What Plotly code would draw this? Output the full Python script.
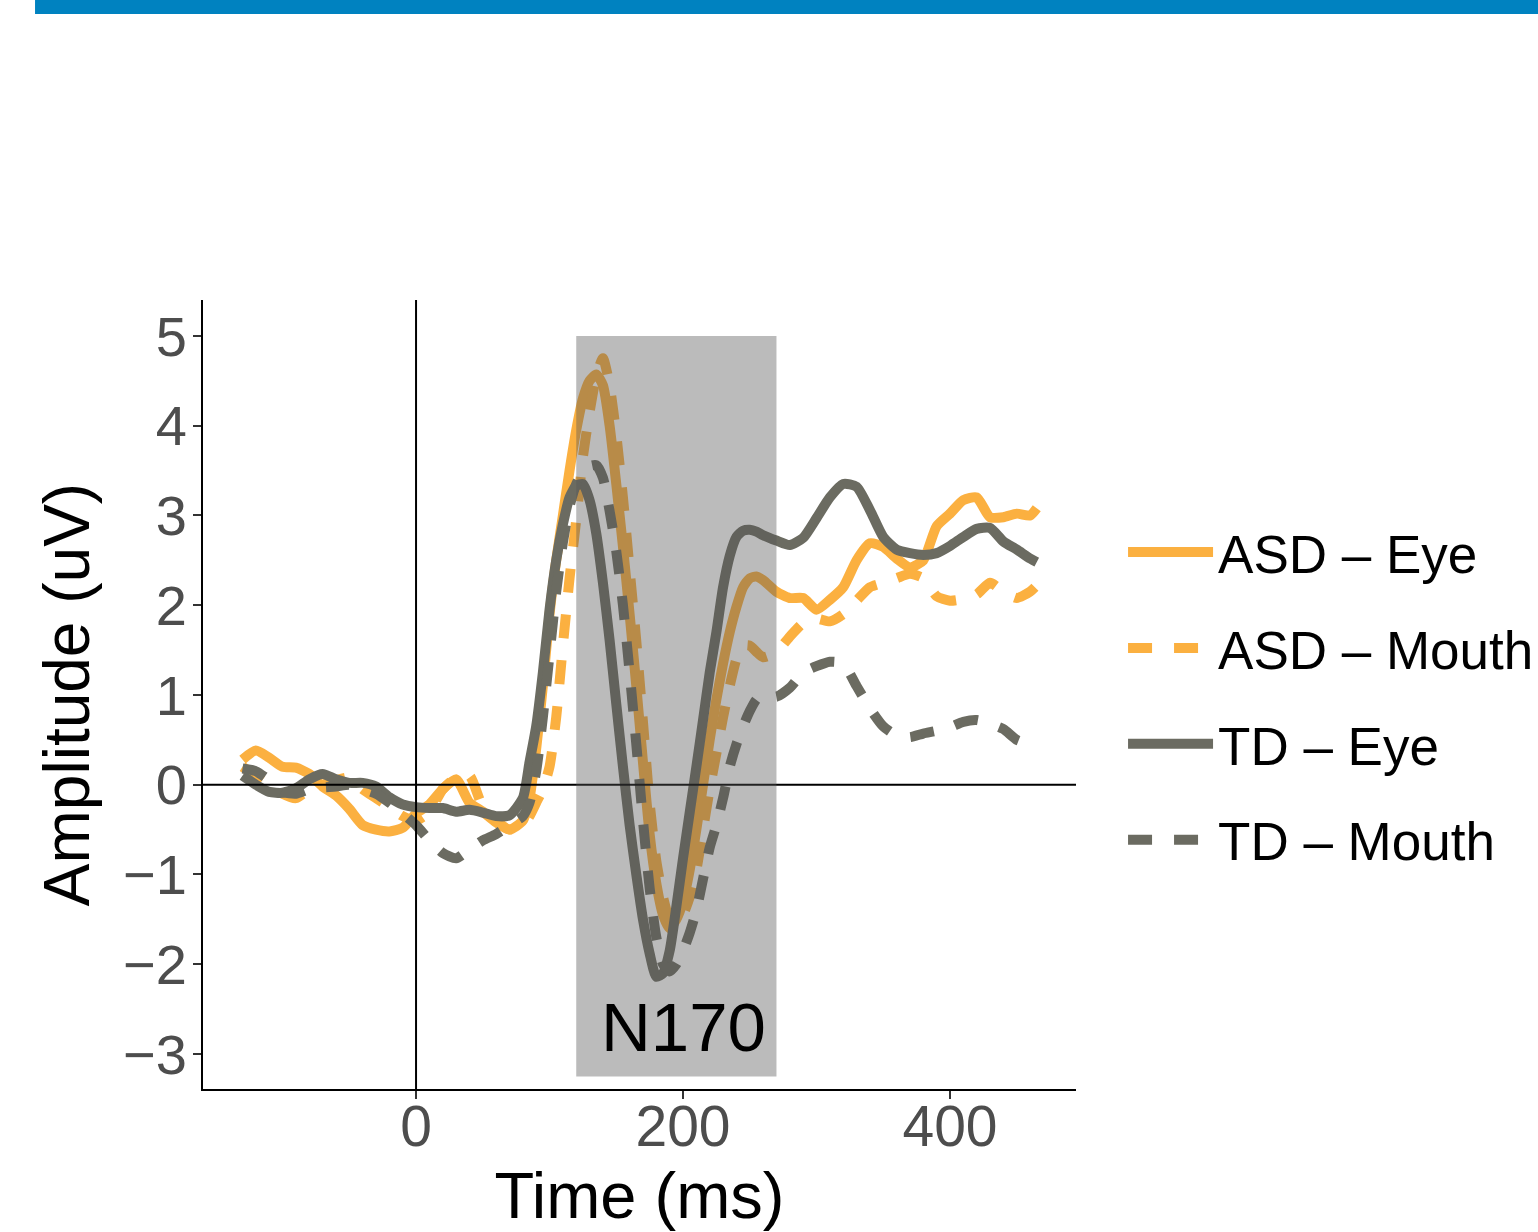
import plotly.graph_objects as go

# ---------------- data ----------------
time_ms = [-130, -120, -110, -100, -90, -80, -70, -60, -50, -40, -30, -20, -10, 0, 10, 20, 30, 40, 50, 60, 70, 80,
           85, 90, 95, 100, 105, 110, 115, 120, 125, 130, 135, 140, 145, 150, 155, 160, 165, 170, 175, 180,
           185, 190, 195, 200, 205, 210, 215, 220, 225, 230, 235, 240, 245, 250, 255,
           260, 270, 280, 290, 300, 310, 320, 330, 340, 350, 360, 370, 380, 390, 400, 410, 420, 430, 440, 450, 460,
           465]

asd_eye = [0.28, 0.38, 0.30, 0.20, 0.19, 0.12, -0.02, -0.12, -0.27, -0.45, -0.50, -0.52, -0.48, -0.32, -0.22, -0.05, 0.06, -0.20, -0.30, -0.42, -0.50, -0.40,
           -0.15, 0.40, 1.10, 1.90, 2.50, 3.00, 3.50, 3.95, 4.30, 4.50, 4.57, 4.45, 4.00, 3.35, 2.65, 1.90, 1.10, 0.25, -0.55, -1.10,
           -1.45, -1.60, -1.50, -1.30, -0.95, -0.50, 0.00, 0.50, 0.95, 1.35, 1.70, 1.98, 2.20, 2.30, 2.32,
           2.28, 2.15, 2.08, 2.08, 1.95, 2.06, 2.20, 2.50, 2.69, 2.65, 2.52, 2.42, 2.50, 2.88, 3.02, 3.17, 3.20, 2.98, 2.98, 3.02, 3.00,
           3.08]

asd_mouth = [0.20, 0.10, 0.00, -0.10, -0.15, -0.05, 0.00, 0.05, 0.08, -0.05, -0.15, -0.25, -0.35, -0.40, -0.30, -0.05, 0.08, 0.10, -0.25, -0.40, -0.50, -0.45,
             -0.35, -0.20, -0.05, 0.20, 0.75, 1.55, 2.30, 2.95, 3.65, 4.15, 4.55, 4.75, 4.45, 3.90, 3.20, 2.40, 1.60, 0.70, -0.20, -0.85,
             -1.25, -1.50, -1.55, -1.45, -1.25, -0.95, -0.50, -0.05, 0.35, 0.75, 1.10, 1.40, 1.55, 1.55, 1.48,
             1.42, 1.48, 1.65, 1.80, 1.85, 1.82, 1.90, 2.05, 2.20, 2.25, 2.30, 2.35, 2.30, 2.10, 2.05, 2.07, 2.12, 2.25, 2.15, 2.08, 2.15,
             2.22]

td_eye = [0.10, 0.00, -0.08, -0.09, -0.04, 0.06, 0.12, 0.06, 0.02, 0.02, -0.02, -0.14, -0.22, -0.25, -0.26, -0.26, -0.30, -0.28, -0.31, -0.35, -0.34, -0.15,
          0.25, 0.65, 1.25, 1.95, 2.50, 2.90, 3.20, 3.33, 3.35, 3.17, 2.80, 2.25, 1.61, 0.90, 0.20, -0.45, -1.00, -1.50, -1.88, -2.14,
          -2.10, -1.85, -1.36, -0.82, -0.31, 0.20, 0.72, 1.25, 1.70, 2.20, 2.55, 2.76, 2.83, 2.84, 2.82,
          2.78, 2.72, 2.67, 2.75, 2.97, 3.20, 3.35, 3.32, 3.06, 2.76, 2.62, 2.58, 2.56, 2.58, 2.66, 2.76, 2.85, 2.86, 2.71, 2.62, 2.52,
          2.48]

td_mouth = [0.18, 0.15, 0.05, -0.08, -0.10, -0.05, -0.03, -0.02, 0.00, -0.05, -0.10, -0.20, -0.32, -0.45, -0.62, -0.76, -0.82, -0.72, -0.62, -0.55, -0.45, -0.35,
            -0.20, 0.15, 0.75, 1.45, 2.15, 2.70, 3.10, 3.35, 3.48, 3.55, 3.56, 3.42, 3.05, 2.60, 2.00, 1.25, 0.45, -0.40, -1.15, -1.70,
            -2.00, -2.08, -2.00, -1.85, -1.65, -1.40, -1.05, -0.70, -0.45, -0.15, 0.20, 0.45, 0.65, 0.82, 0.95,
            1.00, 0.98, 1.08, 1.25, 1.32, 1.37, 1.35, 1.10, 0.85, 0.65, 0.55, 0.53, 0.57, 0.60, 0.64, 0.70, 0.72, 0.68, 0.62, 0.50,
            0.45]

series_names = ["ASD – Eye", "ASD – Mouth", "TD – Eye", "TD – Mouth"]
x_ticks = [0, 200, 400]
y_ticks = [-3, -2, -1, 0, 1, 2, 3, 4, 5]
n170_window = [120, 270]
n170_amp = [-3.25, 5]
n170_label = "N170"
x_title = "Time (ms)"
y_title = "Amplitude (uV)"

# ---------------- styles ----------------
ORANGE = "#FBB040"
GREY = "#6B6B61"
FONT = "Liberation Sans, Arial, Helvetica, sans-serif"
LW = 10
DASH = "24px,22px"

series = [asd_eye, asd_mouth, td_eye, td_mouth]
colors = [ORANGE, ORANGE, GREY, GREY]
dashes = ["solid", DASH, "solid", DASH]

fig = go.Figure()
for i, (name, ys, c, d) in enumerate(zip(series_names, series, colors, dashes)):
    fig.add_trace(go.Scatter(
        x=time_ms, y=ys, mode="lines", name=name,
        legendgroup=f"g{i}",
        line=dict(color=c, width=LW, dash=d, shape="spline", smoothing=0.6),
    ))

x_range = [-159.6, 494.4]
y_range = [-3.39, 5.40]

# zero lines (drawn above traces)
fig.add_shape(type="line", xref="x", yref="y", x0=x_range[0], x1=x_range[1], y0=0, y1=0,
              line=dict(color="black", width=2), layer="above")
fig.add_shape(type="line", xref="x", yref="y", x0=0, x1=0, y0=y_range[0], y1=y_range[1],
              line=dict(color="black", width=2), layer="above")
# N170 window
fig.add_shape(type="rect", xref="x", yref="y", x0=n170_window[0], x1=n170_window[1],
              y0=n170_amp[0], y1=n170_amp[1], fillcolor="rgba(84,84,84,0.4)",
              line=dict(width=0), layer="above")
fig.add_annotation(x=200, y=-2.70, text=n170_label, showarrow=False,
                   font=dict(family=FONT, size=69, color="black"), xanchor="center", yanchor="middle")

# top blue banner
fig.add_shape(type="rect", xref="paper", yref="paper", x0=-0.1924, x1=1.53, y0=1.3625, y1=1.40,
              fillcolor="#0082C0", line=dict(width=0), layer="above")

fig.update_layout(
    width=1538, height=1232,
    margin=dict(l=203, r=462, t=300, b=143),
    paper_bgcolor="white", plot_bgcolor="white",
    font=dict(family=FONT, color="black"),
    showlegend=True,
    legend=dict(
        xref="container", yref="container",
        x=0.7302, y=0.435, xanchor="left", yanchor="middle",
        font=dict(family=FONT, size=53, color="black"),
        itemwidth=85, tracegroupgap=24, bgcolor="rgba(0,0,0,0)",
    ),
)
fig.update_xaxes(
    range=x_range, tickvals=x_ticks, showgrid=False, zeroline=False,
    showline=True, linecolor="black", linewidth=2,
    ticks="outside", ticklen=8, tickwidth=2, tickcolor="#333333",
    tickfont=dict(family=FONT, size=57, color="#4D4D4D"),
    ticklabelstandoff=-21,
    title=dict(text=x_title, font=dict(family=FONT, size=65, color="black"), standoff=28),
    automargin=False,
)
fig.update_yaxes(
    range=y_range, tickvals=y_ticks, showgrid=False, zeroline=False,
    showline=True, linecolor="black", linewidth=2,
    ticks="outside", ticklen=8, tickwidth=2, tickcolor="#333333",
    tickfont=dict(family=FONT, size=56, color="#4D4D4D"),
    ticklabelstandoff=-5,
    title=dict(text=y_title, font=dict(family=FONT, size=64, color="black"), standoff=13),
    automargin=False,
)

fig.write_html(
    "out.html",
    config={"displayModeBar": False, "responsive": False},
    post_script=("document.documentElement.style.overflow='hidden';"
                 "document.body.style.margin='0';"
                 "document.body.style.overflow='hidden';"),
)
